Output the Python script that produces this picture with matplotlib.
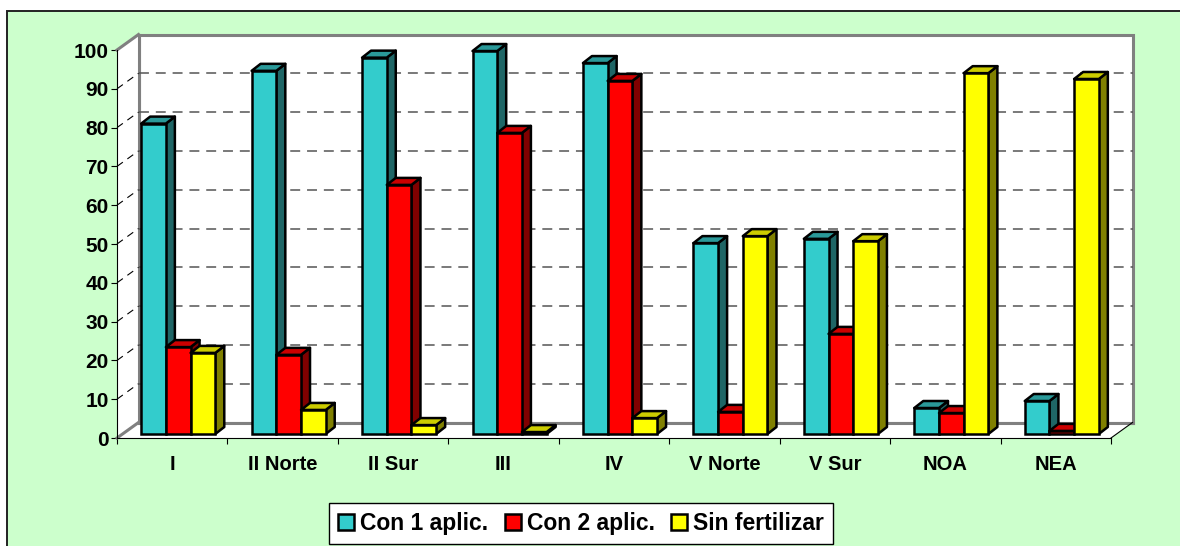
#!/usr/bin/env python3
"""Pseudo-3D clustered bars: fertilizer applications by region."""

import matplotlib

matplotlib.use("Agg")
import matplotlib.pyplot as plt
from matplotlib.patches import Patch, Polygon, Rectangle

plt.rcParams["font.family"] = ["Liberation Sans", "DejaVu Sans"]
plt.rcParams["font.weight"] = "bold"

regions = ["I", "II Norte", "II Sur", "III", "IV", "V Norte", "V Sur", "NOA", "NEA"]
con_1_aplic = [80, 93.6, 97, 98.7, 95.6, 49.2, 50.3, 6.7, 8.5]
con_2_aplic = [22.4, 20.4, 64.2, 77.6, 91, 5.7, 25.8, 5.4, 0.8]
sin_fertilizar = [20.9, 6.2, 2.3, 0.5, 4.1, 51, 49.7, 93, 91.5]
y_ticks = list(range(0, 101, 10))

W, H = 1180, 546
LEFT, RIGHT, BOTTOM, TOP = 117, 1111, 438, 50  # front plane, in pixels
SX = (RIGHT - LEFT) / len(regions)  # px per category
SY = (BOTTOM - TOP) / 100  # px per percent

# wall depth and bar depth, in data units
WALL_DX, WALL_DY = 21.5 / SX, 15.5 / SY
BAR_DX, BAR_DY = 9 / SX, 7 / SY
# bars sit a little behind the front edge of the floor
BAR_OFF_X, BAR_OFF_Y = 6 / SX, 4 / SY
BAR_W = 24.7 / SX

series = [
    ("Con 1 aplic.", con_1_aplic, "#33CCCC", "#1F6666", "#2A9999"),
    ("Con 2 aplic.", con_2_aplic, "#FF0000", "#800000", "#CC0000"),
    ("Sin fertilizar", sin_fertilizar, "#FFFF00", "#808000", "#CCCC00"),
]

fig = plt.figure(figsize=(W / 100, H / 100), dpi=100, facecolor="white")
bg = Rectangle((6.5 / W, -0.02), 1.1, 1 - 10.5 / H + 0.02, transform=fig.transFigure,
               facecolor="#CCFFCC", edgecolor="#222222", linewidth=1.4, zorder=-5)
fig.add_artist(bg)

ax = fig.add_axes([LEFT / W, 1 - BOTTOM / H, (RIGHT - LEFT) / W, (BOTTOM - TOP) / H])
ax.set_xlim(0, len(regions))
ax.set_ylim(0, 100)
ax.patch.set_visible(False)
for name in ("top", "right"):
    ax.spines[name].set_visible(False)
ax.spines["left"].set_linewidth(0.8)
ax.spines["bottom"].set_linewidth(0.8)

n = len(regions)
# walls and floor
ax.add_patch(Polygon([(WALL_DX, WALL_DY), (n + WALL_DX, WALL_DY), (n + WALL_DX, 100 + WALL_DY),
                      (WALL_DX, 100 + WALL_DY)], facecolor="white", edgecolor="#808080",
                     linewidth=2.2, clip_on=False, zorder=1))
ax.add_patch(Polygon([(0, 0), (WALL_DX, WALL_DY), (WALL_DX, 100 + WALL_DY), (0, 100)],
                     facecolor="white", edgecolor="none", clip_on=False, zorder=1))
ax.add_patch(Polygon([(0, 0), (n, 0), (n + WALL_DX, WALL_DY), (WALL_DX, WALL_DY)],
                     facecolor="white", edgecolor="none", clip_on=False, zorder=1))
ax.plot([0, WALL_DX], [100, 100 + WALL_DY], color="#808080", lw=2.2, clip_on=False, zorder=2)
ax.plot([0, WALL_DX], [0, WALL_DY], color="#808080", lw=2.2, clip_on=False, zorder=2)
ax.plot([WALL_DX, n + WALL_DX], [WALL_DY, WALL_DY], color="#808080", lw=2.2, clip_on=False, zorder=2)
ax.plot([WALL_DX, WALL_DX], [WALL_DY, 100 + WALL_DY], color="#808080", lw=2.2, clip_on=False, zorder=2)
ax.plot([n, n + WALL_DX], [0, WALL_DY], color="black", lw=0.8, clip_on=False, zorder=2)

# gridlines on back and left wall
for t in y_ticks[1:-1]:
    ax.plot([WALL_DX, n + WALL_DX], [t + WALL_DY, t + WALL_DY], color="#555555", lw=1.1,
            dashes=(6.5, 4.5), clip_on=False, zorder=2)
    ax.plot([0, WALL_DX], [t, t + WALL_DY], color="black", lw=0.8,
            dashes=(6.5, 5), clip_on=False, zorder=2)

# bars, drawn back-to-front so the neighbours overlap as in the original
group_w = BAR_W * len(series)
for i in range(n):
    x0 = i + 0.5 - group_w / 2 + BAR_OFF_X
    for j, (label, values, front, side, top) in enumerate(series):
        x = x0 + j * BAR_W
        v = values[i]
        b = BAR_OFF_Y
        z = 5 + j * 0.1 + i
        ax.add_patch(Polygon([(x + BAR_W, b), (x + BAR_W + BAR_DX, b + BAR_DY),
                              (x + BAR_W + BAR_DX, v + b + BAR_DY), (x + BAR_W, v + b)],
                             facecolor=side, edgecolor="black", linewidth=1.8,
                             joinstyle="round", clip_on=False, zorder=z))
        ax.add_patch(Polygon([(x, v + b), (x + BAR_W, v + b), (x + BAR_W + BAR_DX, v + b + BAR_DY),
                              (x + BAR_DX, v + b + BAR_DY)],
                             facecolor=top, edgecolor="black", linewidth=1.8,
                             joinstyle="round", clip_on=False, zorder=z))
        ax.bar(x, v, width=BAR_W, bottom=b, align="edge", color=front, edgecolor="black",
               linewidth=1.8, clip_on=False, zorder=z + 0.01)

ax.set_yticks(y_ticks)
ax.set_xticks(range(n + 1))
ax.set_xticklabels([""] * (n + 1))
ax.tick_params(axis="y", length=4.5, width=0.8, labelsize=15, pad=1.5)
ax.tick_params(axis="x", length=4.5, width=0.8)
for i, name in enumerate(regions):
    ax.annotate(name, (i + 0.5, 0), xytext=(0, -26), textcoords="offset pixels",
                ha="center", va="center", fontsize=14.5, fontweight="bold")

handles = [Patch(facecolor=s[2], edgecolor="black", linewidth=1.8, label=s[0]) for s in series]
leg = fig.legend(handles=handles, loc="center", bbox_to_anchor=(581 / W, 1 - 523.5 / H),
                 ncol=3, frameon=True, fancybox=False, framealpha=1, edgecolor="black",
                 prop={"size": 16.5, "weight": "bold"}, handlelength=0.7, handleheight=0.7,
                 handletextpad=0.27, columnspacing=0.7, borderpad=0.38, borderaxespad=0)
leg.get_frame().set_linewidth(1)

fig.savefig("out.png", dpi=100, facecolor=fig.get_facecolor())
